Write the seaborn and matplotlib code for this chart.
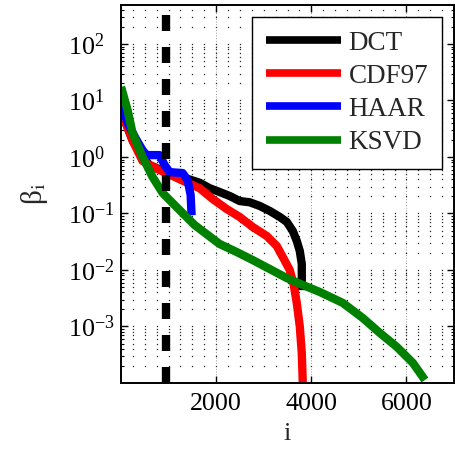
import numpy as np
import pandas as pd
import matplotlib
matplotlib.use("Agg")
import matplotlib.pyplot as plt
import seaborn as sns
from matplotlib.lines import Line2D

# Sorted coefficient magnitudes beta_i for each representation
dct_i = [1, 100, 250, 453, 600, 900, 1168, 1400, 1653, 1863, 2074, 2284, 2495, 2705,
         2916, 3126, 3337, 3484, 3611, 3695, 3758, 3800, 3800]
dct_b = [9.8, 4.0, 1.9, 1.0, 0.72, 0.56, 0.47, 0.41, 0.35, 0.28, 0.24, 0.204, 0.166, 0.158,
         0.136, 0.111, 0.087, 0.071, 0.049, 0.0326, 0.0217, 0.0128, 0.0044]

cdf_i = [1, 100, 250, 453, 747, 1000, 1300, 1653, 1926, 2221, 2495, 2768, 3063, 3274,
         3400, 3547, 3632, 3695, 3758, 3800, 3821, 3830]
cdf_b = [9.8, 4.0, 1.9, 0.85, 0.62, 0.50, 0.38, 0.28, 0.181, 0.120, 0.0867, 0.0577, 0.040, 0.0266,
         0.0170, 0.010, 0.0054, 0.0026, 0.001, 0.00034, 0.0001, 0.00005]

haar_i = [1, 137, 326, 453, 537, 811, 916, 1021, 1295, 1400, 1463, 1484]
haar_b = [9.1, 4.0, 2.0, 1.32, 1.08, 1.08, 0.72, 0.54, 0.52, 0.39, 0.214, 0.093]

ksvd_i = [1, 137, 242, 453, 663, 874, 1168, 1547, 2074, 2432, 2768, 3126, 3484, 3821, 4179,
          4663, 5084, 5442, 5800, 6137, 6389]
ksvd_b = [17.4, 6.8, 2.66, 1.0, 0.443, 0.231, 0.130, 0.0625, 0.0288, 0.0208, 0.0150, 0.0104,
          0.0072, 0.00543, 0.00408, 0.00261, 0.00141, 0.000767, 0.000434, 0.000226, 0.000113]

names = ["DCT", "CDF97", "HAAR", "KSVD"]
colors = ["#000000", "#ff0000", "#0000ff", "#008000"]
threshold_i = 940

x_ticks = [2000, 4000, 6000]
y_ticks = [1e-3, 1e-2, 1e-1, 1e0, 1e1, 1e2]

frames = []
for name, xi, bi in zip(names, [dct_i, cdf_i, haar_i, ksvd_i], [dct_b, cdf_b, haar_b, ksvd_b]):
    frames.append(pd.DataFrame({"i": xi, "beta": bi, "basis": name}))
df = pd.concat(frames, ignore_index=True)

sns.set_style("ticks")
plt.rcParams["font.family"] = ["Liberation Serif", "DejaVu Serif"]
plt.rcParams["mathtext.fontset"] = "stix"

fig = plt.figure(figsize=(4.56, 4.5), dpi=100)
ax = fig.add_axes([0.2654, 0.1489, 0.7302, 0.84])

xlim = (0, 7000)
ylim = (1e-4, 490)

# dotted grid: dots at every grid crossing, plus dotted major verticals
gx = np.arange(250, 7000, 250)
gy = np.array([m * 10.0 ** e for e in range(-4, 3) for m in range(1, 10)])
gy = gy[(gy > ylim[0] * 1.01) & (gy < ylim[1])]
GX, GY = np.meshgrid(gx, gy)
ax.plot(GX.ravel(), GY.ravel(), ls="none", marker="s", ms=0.9, mew=0,
        color="0.15", zorder=0.5)
for xv in x_ticks:
    ax.axvline(xv, color="0.2", lw=0.5, ls=(0, (1, 3)), zorder=0.5)

sns.lineplot(data=df, x="i", y="beta", hue="basis", hue_order=names,
             palette=colors, estimator=None, sort=False, lw=6,
             legend=False, ax=ax)
for ln in ax.get_lines()[-4:]:
    ln.set_solid_capstyle("butt")
    ln.set_solid_joinstyle("round")

ax.axvline(threshold_i, color="k", lw=6, dashes=(1.92, 1.92), zorder=5)

ax.set_yscale("log")
ax.set_xlim(*xlim)
ax.set_ylim(*ylim)
ax.set_xticks(x_ticks)
ax.set_xticklabels([str(v) for v in x_ticks])
ax.set_yticks(y_ticks)
ax.yaxis.set_minor_locator(matplotlib.ticker.LogLocator(base=10, subs=np.arange(2, 10)))
ax.yaxis.set_minor_formatter(matplotlib.ticker.NullFormatter())
ax.xaxis.set_minor_locator(matplotlib.ticker.NullLocator())

ax.tick_params(which="both", direction="in", top=True, right=True,
               labelsize=18.7, colors="k")
ax.tick_params(which="major", length=5, width=1, pad=7)
ax.tick_params(which="minor", length=2.5, width=0.8)
ax.tick_params(axis="y", which="major", pad=38)
for lab in ax.get_yticklabels():
    lab.set_horizontalalignment("left")
for sp in ax.spines.values():
    sp.set_linewidth(1.4)
    sp.set_color("k")

ax.set_xlabel("i", fontsize=19, labelpad=6)
ax.set_ylabel(r"β$_\mathrm{i}$", fontsize=21, labelpad=13)

handles = [Line2D([], [], color=c, lw=5.5, solid_capstyle="butt") for c in colors]
leg = ax.legend(handles, names, loc="upper right", fontsize=19.5, frameon=True,
                fancybox=False, edgecolor="k", framealpha=1,
                handlelength=2.75, handletextpad=0.3, labelspacing=0.3,
                borderpad=0.5, borderaxespad=0.45)
leg.get_frame().set_linewidth(1.0)
leg.set_zorder(10)

fig.savefig("out.png", dpi=100)
